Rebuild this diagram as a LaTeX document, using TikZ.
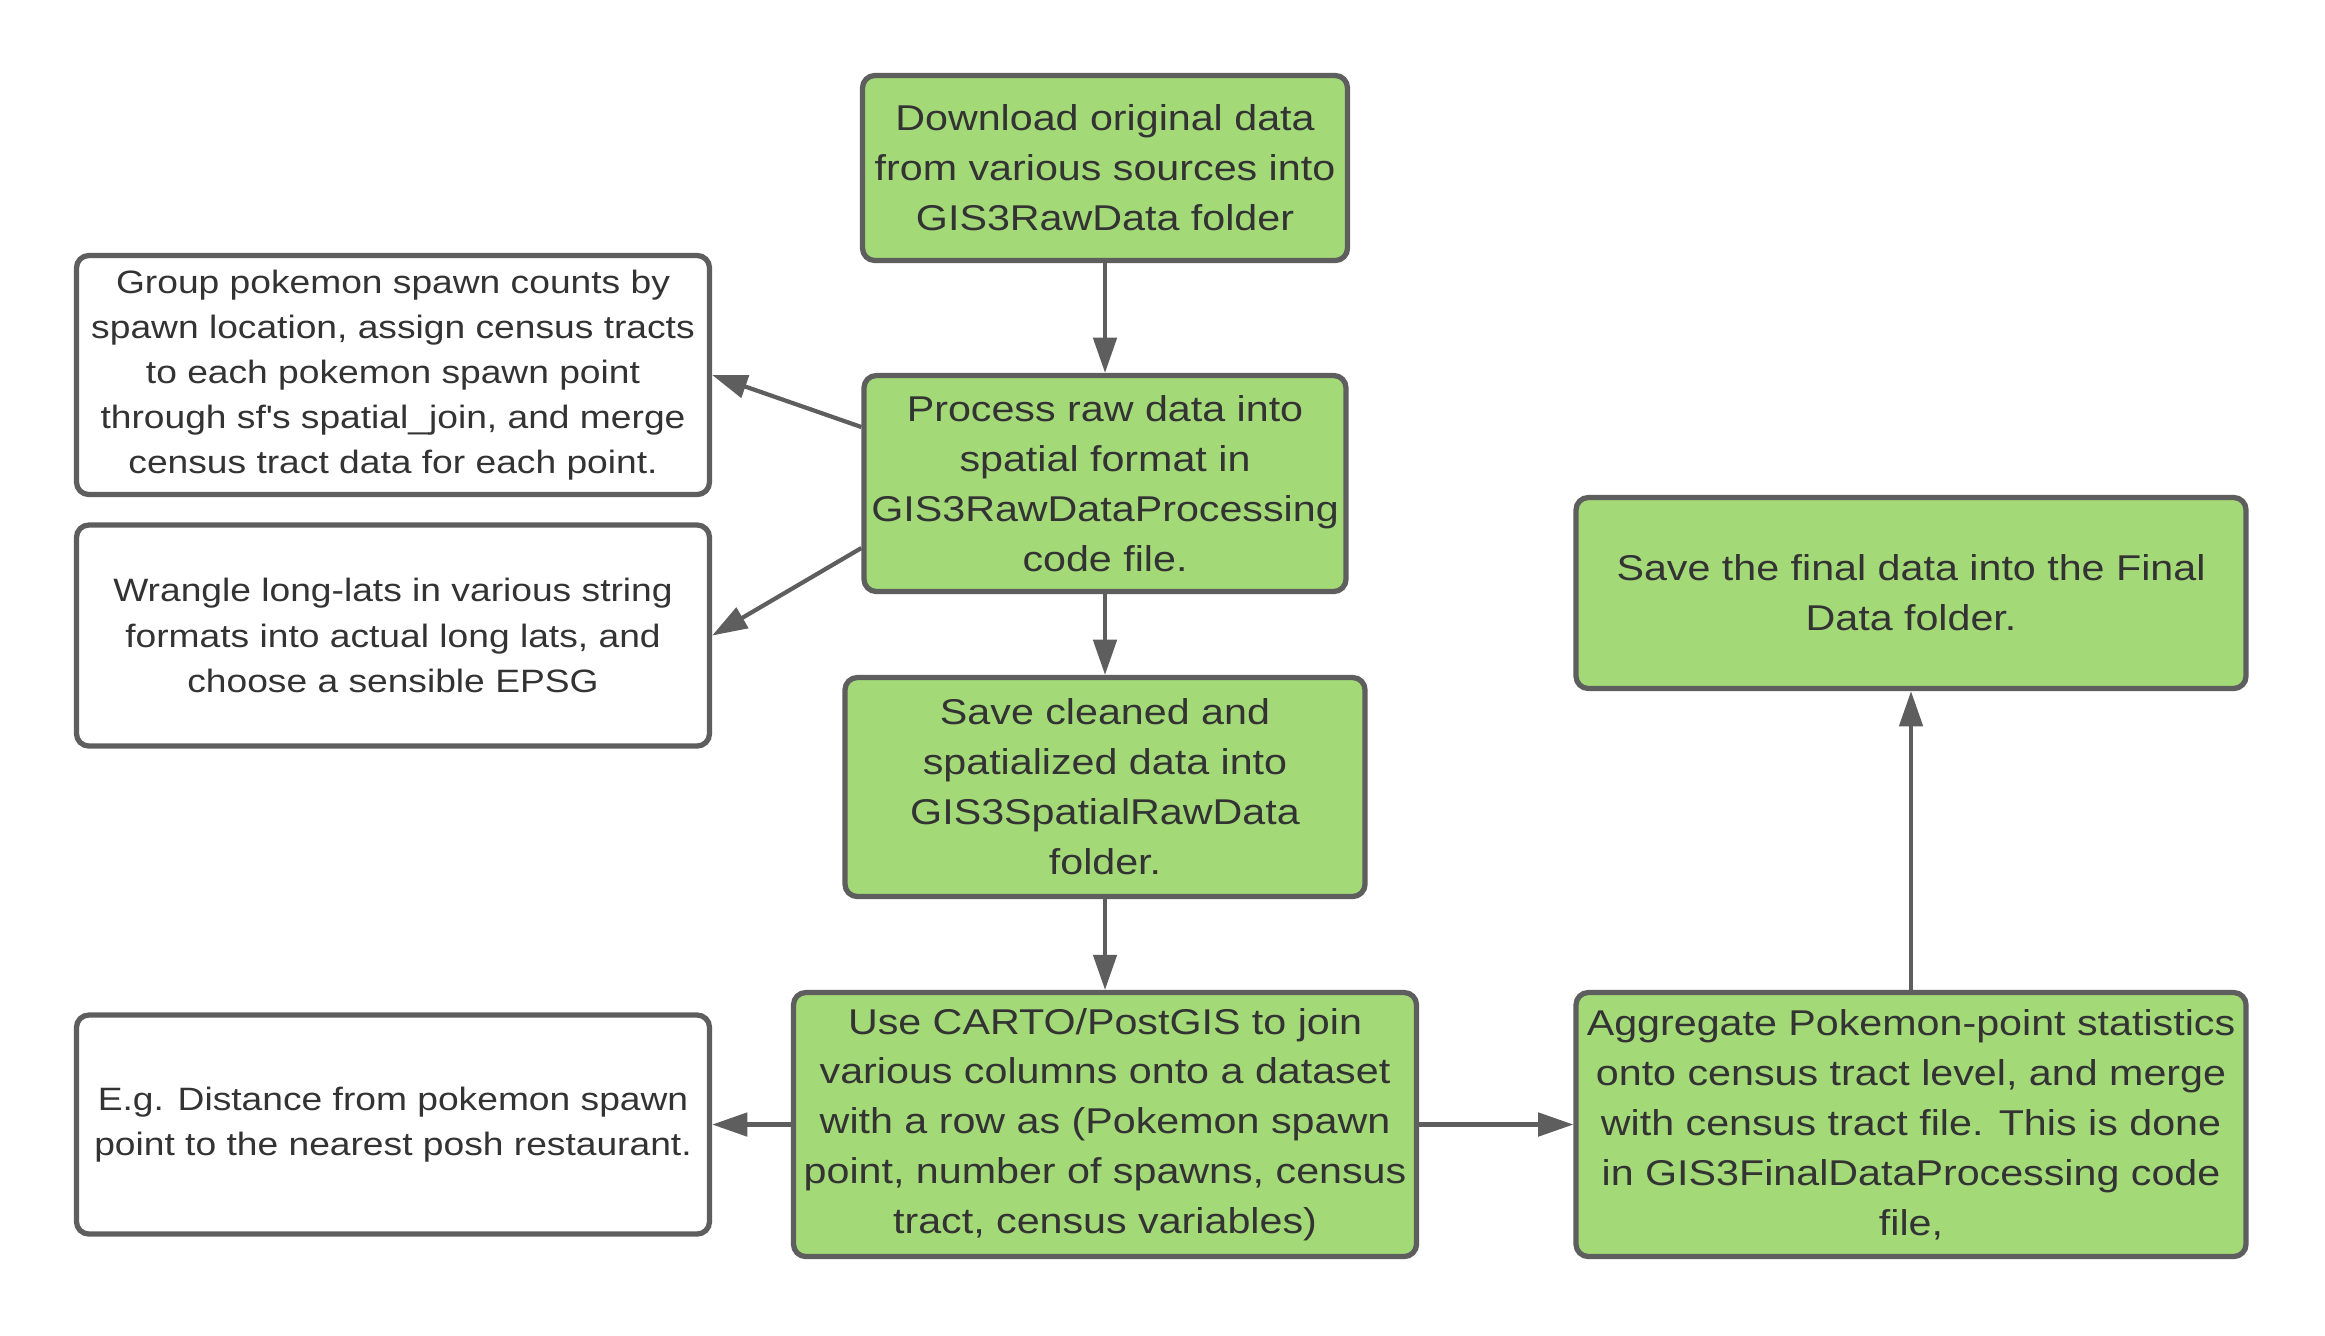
\documentclass[tikz,border=0pt]{standalone}
\usepackage{fontspec}
\setmainfont[FakeStretch=1.15]{Liberation Sans}
\usetikzlibrary{shapes,arrows.meta}
\definecolor{boxgreen}{HTML}{A3D977}
\definecolor{edgegrey}{HTML}{5E5E5E}
\definecolor{textgrey}{HTML}{333333}

\begin{document}
\begin{tikzpicture}[
	procbox/.style={draw=edgegrey, fill=boxgreen, line width=1.5pt, rounded corners=3.5pt, align=center, inner sep=0pt, text=textgrey, font=\fontsize{10.2pt}{14.2pt}\selectfont},
	notebox/.style={draw=edgegrey, fill=white, line width=1.5pt, rounded corners=3.5pt, align=center, inner sep=0pt, text=textgrey, font=\fontsize{9.2pt}{12.85pt}\selectfont, minimum width=6.33cm},
	flow/.style={draw=edgegrey, line width=1.2pt, -{Triangle[length=10pt,width=6.6pt]}}]
	
		\fill[white] (0,0) rectangle (23.25,-13.35);
		\useasboundingbox (0,0) rectangle (23.25,-13.35);
		
		% main chain
		\node[procbox, minimum width=4.85cm, minimum height=1.85cm] (download) at (11.05,-1.68) {Download original data\\from various sources into\\GIS3RawData folder};
		\node[procbox, minimum width=4.82cm, minimum height=2.16cm] (process) [below of=download, node distance=3.155cm] {Process raw data into\\spatial format in\\GIS3RawDataProcessing\\code file.};
		\node[procbox, minimum width=5.2cm, minimum height=2.19cm] (cleaned) [below of=process, node distance=3.035cm] {Save cleaned and\\spatialized data into\\GIS3SpatialRawData\\folder.};
		\node[procbox, minimum width=6.23cm, minimum height=2.64cm] (carto) [below of=cleaned, node distance=3.375cm] {Use CARTO/PostGIS to join\\various columns onto a dataset\\with a row as (Pokemon spawn\\point, number of spawns, census\\tract, census variables)};
		\node[procbox, minimum width=6.7cm, minimum height=2.64cm] (aggregate) [right of=carto, node distance=8.06cm] {Aggregate Pokemon-point statistics\\onto census tract level, and merge\\with census tract file. This is done\\in GIS3FinalDataProcessing code\\file,};
		\node[procbox, minimum width=6.7cm, minimum height=1.91cm] (final) [above of=aggregate, node distance=5.315cm] {Save the final data into the Final\\Data folder.};
		
		% side notes
		\node[notebox, minimum height=2.19cm] (example) [left of=carto, node distance=7.12cm] {E.g. Distance from pokemon spawn\\point to the nearest posh restaurant.};
		\node[notebox, minimum height=2.21cm] (wrangle) [above of=example, node distance=4.89cm] {Wrangle long-lats in various string\\formats into actual long lats, and\\choose a sensible EPSG};
		\node[notebox, minimum height=2.39cm] (group) [above of=wrangle, node distance=2.605cm] {Group pokemon spawn counts by\\spawn location, assign census tracts\\to each pokemon spawn point\\through sf\textquotesingle s spatial\_join, and merge\\census tract data for each point.};
		
		\draw[flow] (download) -- (process);
		\draw[flow] ([yshift=0.565cm]process.west) -- (group.east);
		\draw[flow] ([yshift=-0.645cm]process.west) -- (wrangle.east);
		\draw[flow] (process) -- (cleaned);
		\draw[flow] (cleaned) -- (carto);
		\draw[flow] (carto) -- (example);
		\draw[flow] (carto) -- (aggregate);
		\draw[flow] (aggregate) -- (final);
		
	\end{tikzpicture}
\end{document}
